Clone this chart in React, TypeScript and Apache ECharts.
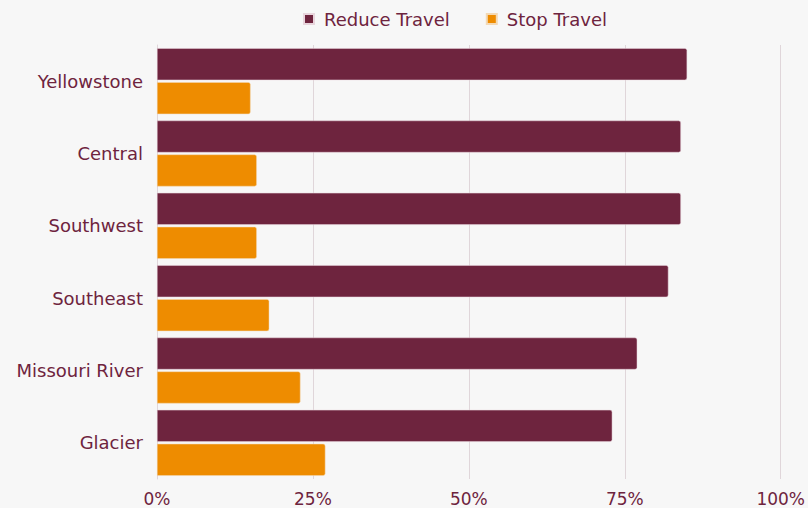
import React, { useEffect, useRef } from "react";
import * as echarts from "echarts";

const categories = ["Yellowstone", "Central", "Southwest", "Southeast", "Missouri River", "Glacier"];
const reduceTravel = [85, 84, 84, 82, 77, 73];
const stopTravel = [15, 16, 16, 18, 23, 27];
const seriesNames = ["Reduce Travel", "Stop Travel"];

const MAROON = "#6e243e";
const ORANGE = "#ee8c00";
const FONT = "'DejaVu Sans', sans-serif";

export default function App() {
  const ref = useRef<HTMLDivElement>(null);
  useEffect(() => {
    const chart = echarts.init(ref.current!, null, { renderer: "svg" });
    chart.setOption({
      animation: false,
      backgroundColor: "#f7f7f7",
      legend: {
        data: seriesNames,
        top: 5,
        left: 298,
        itemWidth: 10,
        itemHeight: 10,
        itemGap: 36,
        icon: "rect",
        textStyle: { color: MAROON, fontSize: 18, fontFamily: FONT, padding: [0, 0, 0, 5] },
      },
      grid: { left: 157, right: 27, top: 45, bottom: 29, containLabel: false },
      xAxis: {
        type: "value",
        min: 0,
        max: 100,
        interval: 25,
        axisLabel: { formatter: "{value}%", color: MAROON, fontSize: 17, fontFamily: FONT, margin: 11 },
        splitLine: { lineStyle: { color: "#e0d6da", width: 1 } },
        axisLine: { show: false },
        axisTick: { show: false },
      },
      yAxis: {
        type: "category",
        data: categories,
        inverse: true,
        axisLabel: { color: MAROON, fontSize: 18, fontFamily: FONT, margin: 14, padding: [3, 0, 0, 0] },
        axisLine: { show: true, lineStyle: { color: "#e0d6da" } },
        axisTick: { show: false },
      },
      series: [
        {
          name: seriesNames[0],
          type: "bar",
          data: reduceTravel,
          barWidth: 32,
          barGap: "6%",
          itemStyle: { color: MAROON, borderRadius: [0, 2, 2, 0], borderColor: "#e8d5dc", borderWidth: 0.5 },
        },
        {
          name: seriesNames[1],
          type: "bar",
          data: stopTravel,
          barWidth: 32,
          itemStyle: { color: ORANGE, borderRadius: [0, 2, 2, 0], borderColor: "#f3d9b5", borderWidth: 0.5 },
        },
      ],
    });
    return () => chart.dispose();
  }, []);
  return <div ref={ref} style={{ width: 808, height: 508, position: "absolute", left: 0, top: 0 }} />;
}
